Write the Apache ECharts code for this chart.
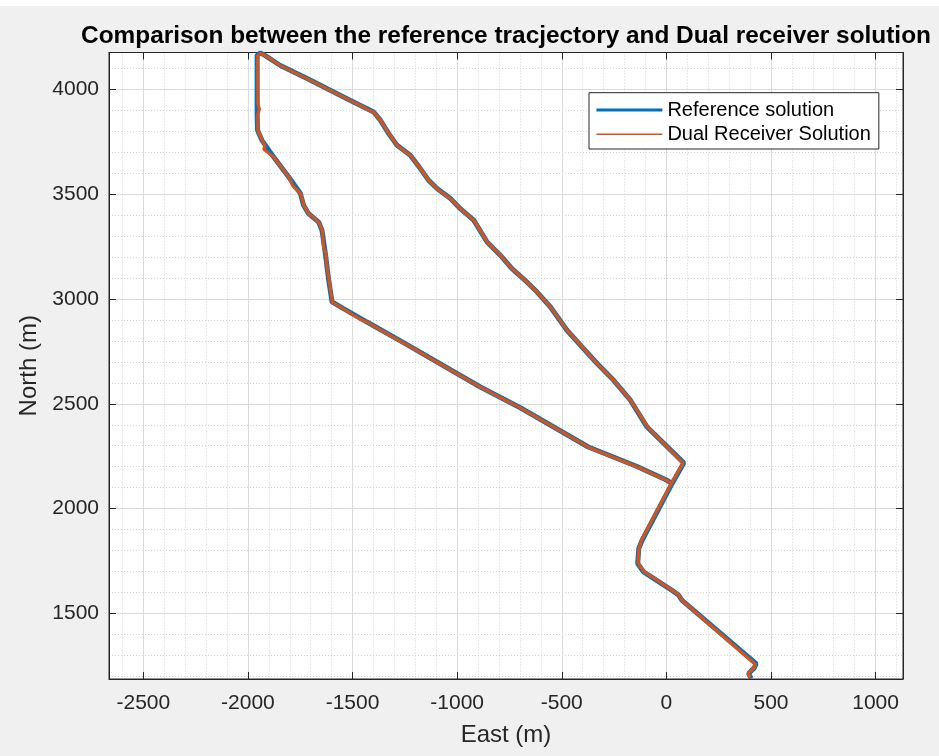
<!DOCTYPE html>
<html><head><meta charset="utf-8">
<script src="https://cdn.jsdelivr.net/npm/echarts@6/dist/echarts.min.js"></script>
<style>html,body{margin:0;padding:0;background:#f0f0f0}#c{width:939px;height:756px}</style>
</head><body><div id="c"></div>
<script>
const seriesNames = ['Reference solution', 'Dual Receiver Solution'];
const refEast = [405,393,420,429,75,59,27,-109,-137,-132,-116,27,83,-92,-172,-252,-331,-403,-475,-554,-618,-674,-738,-793,-857,-921,-985,-1032,-1096,-1136,-1176,-1224,-1287,-1327,-1367,-1399,-1447,-1510,-1717,-1845,-1917,-1941,-1956,-1956,-1954,-1933,-1877,-1805,-1749,-1734,-1710,-1662,-1646,-1630,-1614,-1598,-1543,-1431,-1248,-889,-698,-373,-143,3,27];
const refNorth = [1190,1213,1240,1260,1562,1586,1610,1698,1738,1809,1849,2119,2218,2389,2517,2612,2692,2771,2851,2962,3033,3088,3145,3208,3272,3376,3431,3479,3527,3566,3622,3686,3733,3789,3853,3892,3916,3947,4052,4114,4161,4174,4163,3885,3805,3757,3677,3582,3503,3447,3407,3367,3328,3217,3090,2986,2954,2890,2787,2580,2481,2294,2202,2135,2119];
const dualEast = [400,391,418,426,77,66,57,24,-108,-135,-131,-118,25,80,-90,-170,-250,-330,-401,-473,-552,-616,-672,-736,-791,-855,-919,-983,-1030,-1094,-1134,-1174,-1222,-1285,-1325,-1365,-1397,-1430,-1447,-1508,-1715,-1843,-1900,-1925,-1940,-1954,-1952,-1945,-1953,-1952,-1931,-1918,-1925,-1875,-1803,-1785,-1747,-1732,-1708,-1660,-1644,-1638,-1627,-1625,-1612,-1596,-1541,-1510,-1455,-1429,-1260,-1246,-887,-696,-371,-141,5,29];
const dualNorth = [1192,1214,1239,1256,1560,1576,1590,1612,1700,1740,1806,1850,2121,2217,2390,2515,2610,2690,2770,2849,2960,3031,3086,3143,3206,3270,3374,3429,3477,3525,3564,3620,3684,3731,3787,3851,3890,3905,3916,3945,4050,4112,4150,4165,4172,4160,3930,3905,3880,3803,3755,3728,3715,3675,3580,3540,3501,3445,3405,3365,3326,3245,3215,3175,3088,2984,2952,2930,2900,2888,2792,2785,2578,2479,2292,2200,2133,2117];
const xRange = [-2664, 1131];
const yRange = [1187, 4176];

const FF = 'Liberation Sans, Arial, sans-serif';
const AX = '#262626';
const toPts = (xs, ys) => xs.map((x, i) => [x, ys[i]]);
const plain = v => String(v);

function xAx(pos, opts) {
  return Object.assign({
    type: 'value', position: pos, min: xRange[0], max: xRange[1], splitNumber: 7,
    axisLine: {show: false, onZero: false},
    axisTick: {show: true, inside: true, length: 7, lineStyle: {color: AX}},
    axisLabel: {show: false},
    splitLine: {show: false}
  }, opts);
}
function yAx(pos, opts) {
  return Object.assign({
    type: 'value', position: pos, min: yRange[0], max: yRange[1], splitNumber: 6,
    axisLine: {show: false, onZero: false},
    axisTick: {show: true, inside: true, length: 7, lineStyle: {color: AX}},
    axisLabel: {show: false},
    splitLine: {show: false}
  }, opts);
}

const chart = echarts.init(document.getElementById('c'), null, {renderer: 'canvas'});
chart.setOption({
  animation: false,
  backgroundColor: '#f0f0f0',
  graphic: [{type: 'rect', shape: {x: 0, y: 0, width: 939, height: 6}, style: {fill: '#ffffff'}, silent: true}],
  title: {
    text: 'Comparison between the reference tracjectory and Dual receiver solution',
    left: 506, top: 24, textAlign: 'center', padding: 0,
    textStyle: {fontFamily: FF, fontSize: 24.4, fontWeight: 'bold', color: '#000'}
  },
  grid: {left: 109, right: 36, top: 52.5, bottom: 77, show: true, backgroundColor: '#ffffff', borderColor: AX, borderWidth: 1, outerBoundsMode: 'none'},
  legend: {
    left: 589, top: 92.7, orient: 'vertical',
    itemWidth: 66, itemHeight: 14, itemGap: 4.3,
    padding: [7.3, 8, 4.7, 7.4],
    backgroundColor: '#ffffff', borderColor: AX, borderWidth: 1, borderRadius: 0,
    symbolKeepAspect: true,
    textStyle: {fontFamily: FF, fontSize: 20, lineHeight: 20, color: '#000'},
    data: [
      {name: seriesNames[0], icon: 'path://M0,0H66V3H0Z', itemStyle: {color: '#0072BD', borderWidth: 0}},
      {name: seriesNames[1], icon: 'path://M0,0H66V1.4H0Z', itemStyle: {color: '#D95319', borderWidth: 0}}
    ]
  },
  xAxis: [
    xAx('bottom', {
      axisLine: {show: true, onZero: false, lineStyle: {color: AX}},
      axisLabel: {show: true, margin: 13.5, fontSize: 21, color: AX, fontFamily: FF, showMinLabel: false, showMaxLabel: false, formatter: plain},
      splitLine: {show: true, showMinLine: false, showMaxLine: false, lineStyle: {color: '#dfdfdf', width: 1}},
      name: 'East (m)', nameLocation: 'middle', nameGap: 44,
      nameTextStyle: {fontFamily: FF, fontSize: 24, color: AX}
    }),
    xAx('top', {axisLine: {show: true, onZero: false, lineStyle: {color: AX}}}),
    xAx('bottom', {splitNumber: 38, axisTick: {show: false},
      splitLine: {show: true, showMinLine: false, showMaxLine: false, lineStyle: {color: '#d2d2d2', width: 1, type: [1, 2]}}})
  ],
  yAxis: [
    yAx('left', {
      axisLine: {show: true, onZero: false, lineStyle: {color: AX}},
      axisLabel: {show: true, margin: 10, fontSize: 21, color: AX, fontFamily: FF, showMinLabel: false, showMaxLabel: false, formatter: plain},
      splitLine: {show: true, showMinLine: false, showMaxLine: false, lineStyle: {color: '#dfdfdf', width: 1}},
      name: 'North (m)', nameLocation: 'middle', nameGap: 55, nameRotate: 90,
      nameTextStyle: {fontFamily: FF, fontSize: 24, color: AX}
    }),
    yAx('right', {axisLine: {show: true, onZero: false, lineStyle: {color: AX}}}),
    yAx('left', {splitNumber: 30, axisTick: {show: false},
      splitLine: {show: true, showMinLine: false, showMaxLine: false, lineStyle: {color: '#d2d2d2', width: 1, type: [1, 2]}}})
  ],
  series: [
    {name: seriesNames[0], type: 'line', xAxisIndex: 0, yAxisIndex: 0, data: toPts(refEast, refNorth),
     showSymbol: false, symbol: 'none', clip: false, smooth: false,
     lineStyle: {color: '#0072BD', width: 5}, itemStyle: {color: '#0072BD'}, z: 3},
    {name: seriesNames[1], type: 'line', xAxisIndex: 0, yAxisIndex: 0, data: toPts(dualEast, dualNorth),
     showSymbol: false, symbol: 'none', clip: false, smooth: false,
     lineStyle: {color: '#D95319', width: 3.2}, itemStyle: {color: '#D95319'}, z: 4}
  ]
});
</script>
</body></html>
